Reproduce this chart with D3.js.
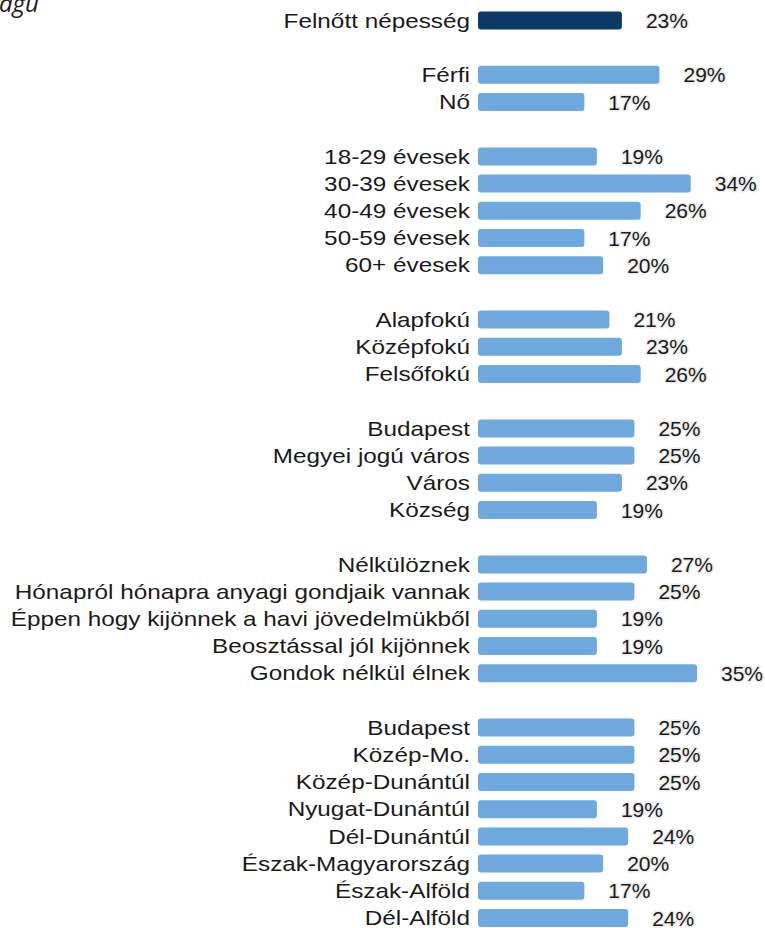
<!DOCTYPE html>
<html>
<head>
<meta charset="utf-8">
<script src="https://cdn.jsdelivr.net/npm/d3@7"></script>
<style>
  body { margin: 0; background: #fff; }
  svg { display: block; }
  .lbl { font-family: "Liberation Sans", Arial, sans-serif; font-size: 20px; fill: #1a1a1a; }
  .val { font-family: "Liberation Sans", Arial, sans-serif; font-size: 21px; fill: #1a1a1a;
         stroke: #ececec; stroke-width: 3px; paint-order: stroke; stroke-linejoin: round; }
</style>
</head>
<body>
<div id="chart"></div>
<script>
// groups of categories, each followed by its values (percent)
var totalCats = ["Felnőtt népesség"]
var totalVals = [23]
var genderCats = ["Férfi", "Nő"]
var genderVals = [29, 17]
var ageCats = ["18-29 évesek", "30-39 évesek", "40-49 évesek", "50-59 évesek", "60+ évesek"]
var ageVals = [19, 34, 26, 17, 20]
var eduCats = ["Alapfokú", "Középfokú", "Felsőfokú"]
var eduVals = [21, 23, 26]
var settleCats = ["Budapest", "Megyei jogú város", "Város", "Község"]
var settleVals = [25, 25, 23, 19]
var incomeCats = ["Nélkülöznek", "Hónapról hónapra anyagi gondjaik vannak", "Éppen hogy kijönnek a havi jövedelmükből", "Beosztással jól kijönnek", "Gondok nélkül élnek"]
var incomeVals = [27, 25, 19, 19, 35]
var regionCats = ["Budapest", "Közép-Mo.", "Közép-Dunántúl", "Nyugat-Dunántúl", "Dél-Dunántúl", "Észak-Magyarország", "Észak-Alföld", "Dél-Alföld"]
var regionVals = [25, 25, 25, 19, 24, 20, 17, 24]

var groups = [
  [totalCats, totalVals],
  [genderCats, genderVals],
  [ageCats, ageVals],
  [eduCats, eduVals],
  [settleCats, settleVals],
  [incomeCats, incomeVals],
  [regionCats, regionVals]
]

// flatten into rows, leaving one empty slot between groups
var rows = []
var slot = 0
groups.forEach(function(g, gi) {
  g[0].forEach(function(c, i) {
    rows.push({slot: slot, cat: c, value: g[1][i], total: gi == 0})
    slot++
  })
  slot++
})
var nSlots = slot - 1

var width = 765, height = 928

var svg = d3.select("#chart").append("svg")
    .attr("width", width)
    .attr("height", height)

var x = d3.scaleLinear()
    .domain([0, 35])
    .range([478, 697])

var y = d3.scaleBand()
    .domain(d3.range(nSlots))
    .range([6.8, 6.8 + nSlots * 27.2])
    .paddingInner(0.34)
    .paddingOuter(0.17)

// cut-off title fragment at top left
svg.append("text")
    .attr("x", -1)
    .attr("y", 12)
    .style("font-family", "'Open Sans', 'Noto Sans', sans-serif")
    .style("font-style", "italic")
    .style("font-size", "24px")
    .style("fill", "#1a1a1a")
    .text("agú")

svg.selectAll(".bar")
  .data(rows)
  .enter()
  .append("rect")
    .attr("class", "bar")
    .attr("x", x(0))
    .attr("y", function(d){ return y(d.slot) })
    .attr("width", function(d){ return x(d.value) - x(0) })
    .attr("height", y.bandwidth())
    .attr("rx", 3)
    .attr("fill", function(d){ return d.total ? "#0c3966" : "#6fa8dc" })

// category labels are drawn a bit wide, like in the original
svg.selectAll(".lbl")
  .data(rows)
  .enter()
  .append("text")
    .attr("class", "lbl")
    .attr("transform", function(d){
      return "translate(" + (x(0) - 8) + "," + (y(d.slot) + y.bandwidth() / 2) + ") scale(1.215,1)"
    })
    .attr("dy", "0.36em")
    .attr("text-anchor", "end")
    .text(function(d){ return d.cat })

svg.selectAll(".val")
  .data(rows)
  .enter()
  .append("text")
    .attr("class", "val")
    .attr("x", function(d){ return x(d.value) + 24 })
    .attr("y", function(d){ return y(d.slot) + y.bandwidth() / 2 })
    .attr("dy", "0.36em")
    .text(function(d){ return d.value + "%" })
</script>
</body>
</html>
